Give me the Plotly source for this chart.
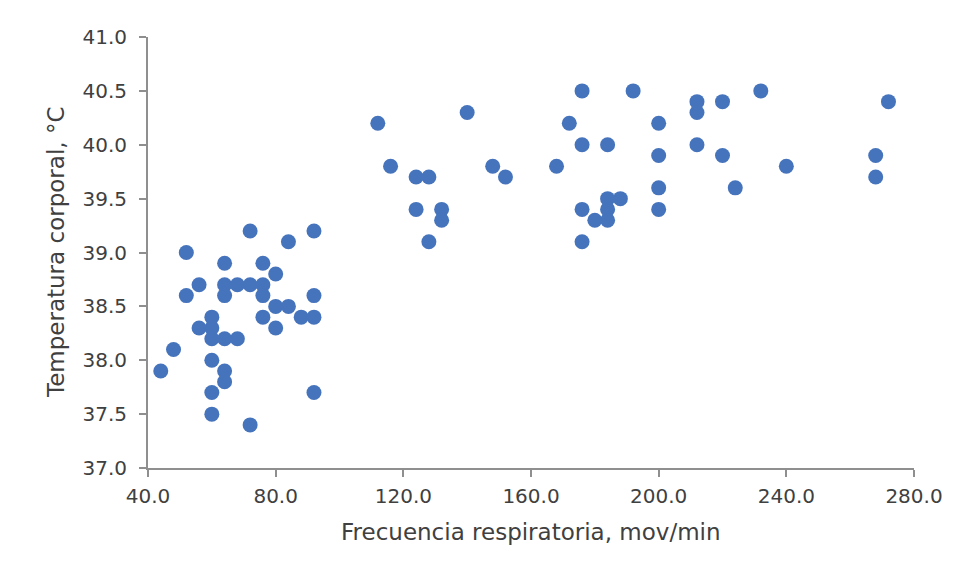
import plotly.graph_objects as go

# frecuencia respiratoria (mov/min) y temperatura corporal (°C)
frec = [44, 48, 52, 52, 56, 56, 60, 60, 60, 60, 60, 60, 64, 64, 64, 64, 64, 64,
        68, 68, 72, 72, 72, 76, 76, 76, 76, 80, 80, 80, 84, 84, 88, 92, 92, 92, 92,
        112, 116, 124, 128, 124, 132, 132, 128, 140, 148, 152, 168,
        172, 176, 176, 176, 176, 180, 184, 184, 184, 184, 188, 192,
        200, 200, 200, 200, 212, 212, 212, 220, 220, 224, 232, 240, 268, 268, 272]
temp = [37.9, 38.1, 39.0, 38.6, 38.7, 38.3, 38.4, 38.3, 38.2, 38.0, 37.7, 37.5,
        38.9, 38.7, 38.6, 38.2, 37.9, 37.8, 38.7, 38.2, 39.2, 38.7, 37.4,
        38.9, 38.7, 38.6, 38.4, 38.8, 38.5, 38.3, 39.1, 38.5, 38.4, 39.2, 38.6, 38.4, 37.7,
        40.2, 39.8, 39.7, 39.7, 39.4, 39.4, 39.3, 39.1, 40.3, 39.8, 39.7, 39.8,
        40.2, 40.5, 40.0, 39.4, 39.1, 39.3, 40.0, 39.5, 39.4, 39.3, 39.5, 40.5,
        40.2, 39.9, 39.6, 39.4, 40.4, 40.3, 40.0, 40.4, 39.9, 39.6, 40.5, 39.8, 39.9, 39.7, 40.4]

x_ticks = [40, 80, 120, 160, 200, 240, 280]
y_ticks = [37.0, 37.5, 38.0, 38.5, 39.0, 39.5, 40.0, 40.5, 41.0]

x_title = 'Frecuencia respiratoria, mov/min'
y_title = 'Temperatura corporal, °C'

fig = go.Figure(go.Scatter(x=frec, y=temp, mode='markers',
                           marker=dict(size=15, color='#4674BC'),
                           cliponaxis=False, showlegend=False))

fnt = 'DejaVu Sans, Liberation Sans, Arial, sans-serif'
txt_col = '#404040'
tick_font = dict(family=fnt, size=20, color=txt_col)
ax = dict(showgrid=False, zeroline=False, showline=True, linecolor='#8f8f8f',
          linewidth=2, ticks='outside', ticklen=7, tickwidth=2, tickcolor='#8f8f8f',
          tickfont=tick_font, tickformat='.1f', automargin=False)

# page body has an 8px margin, so the figure is a bit smaller than the window
fig.update_layout(
    width=946, height=568,
    margin=dict(l=140, r=40, t=29, b=108),
    paper_bgcolor='white', plot_bgcolor='white',
    font=dict(family=fnt, color=txt_col),
    xaxis=dict(range=[40, 280], tickvals=x_ticks, ticklabelstandoff=2, **ax),
    yaxis=dict(range=[37, 41], tickvals=y_ticks, ticklabelstandoff=8, **ax),
    annotations=[
        dict(text=x_title, xref='paper', yref='paper', x=0.5, y=-0.1485,
             xanchor='center', yanchor='middle', showarrow=False,
             font=dict(family=fnt, size=23, color=txt_col)),
        dict(text=y_title, xref='paper', yref='paper', x=-0.1208, y=0.5,
             xanchor='center', yanchor='middle', showarrow=False, textangle=-90,
             font=dict(family=fnt, size=23, color=txt_col)),
    ],
)

fig.write_html("out.html")
